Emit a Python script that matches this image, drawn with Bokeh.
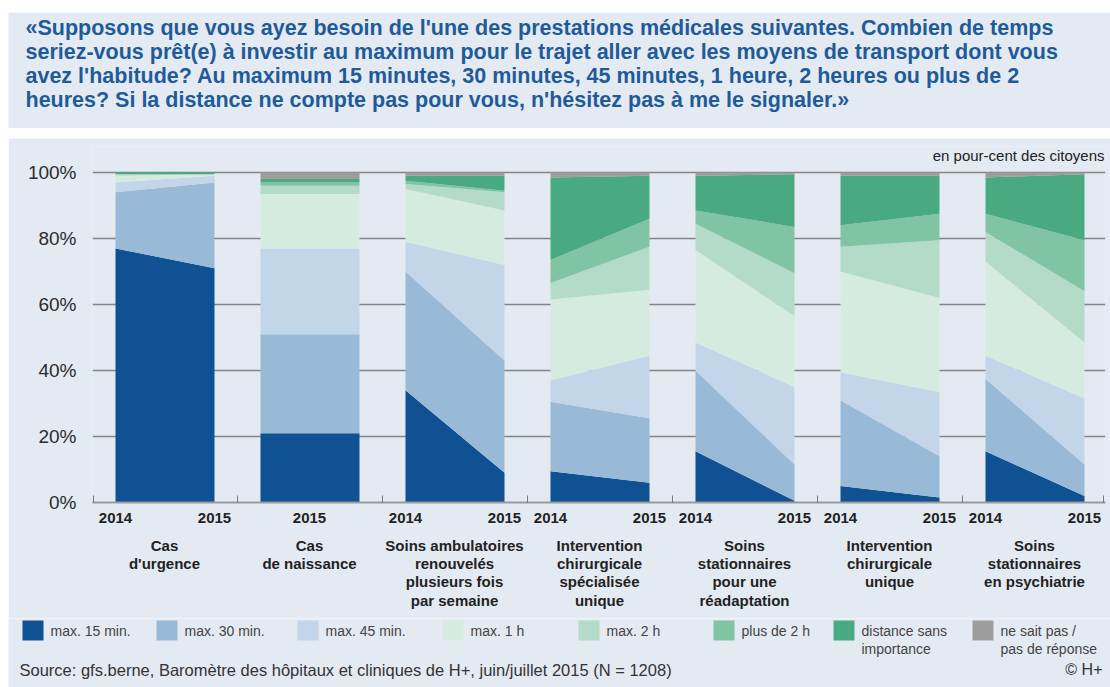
from bokeh.plotting import figure
from bokeh.layouts import column, row
from bokeh.models import Range1d, FixedTicker, LinearAxis, Label, ColumnDataSource, Spacer
from bokeh.core.properties import value
from bokeh.embed import file_html
from bokeh.resources import INLINE

# ---------------- data ----------------
categories = ["Cas\nd'urgence", "Cas\nde naissance",
              "Soins ambulatoires\nrenouvelés\nplusieurs fois\npar semaine",
              "Intervention\nchirurgicale\nspécialisée\nunique",
              "Soins\nstationnaires\npour une\nréadaptation",
              "Intervention\nchirurgicale\nunique",
              "Soins\nstationnaires\nen psychiatrie"]
years = ["2014", "2015"]
series = ["max. 15 min.", "max. 30 min.", "max. 45 min.", "max. 1 h", "max. 2 h",
          "plus de 2 h", "distance sans\nimportance", "ne sait pas /\npas de réponse"]
colors = ["#0f5193", "#99bad7", "#c3d5e8", "#d6ebe0", "#b4dbc8", "#81c4a3", "#49a980", "#9d9d9d"]

# values 2014 (None = not surveyed)
max15_2014 = [77, None, 34, 9.5, 15.5, 5, 15.5]
max30_2014 = [17, None, 36, 21, 24.5, 26, 22]
max45_2014 = [3, None, 9, 6.5, 8.5, 8.5, 7]
max1h_2014 = [2, None, 16, 24.5, 28, 30.5, 28.5]
max2h_2014 = [0.5, None, 1.5, 5, 8, 7.5, 9]
plus2h_2014 = [0, None, 1, 7, 4, 6.5, 5.5]
dist_2014 = [0.5, None, 1.5, 25, 10.5, 15, 11]
nsp_2014 = [0, None, 1, 1.5, 1, 1, 1.5]

# values 2015
max15_2015 = [71, 21, 9, 6, 0.5, 1.5, 2]
max30_2015 = [26, 30, 34, 19.5, 11, 12.5, 9.5]
max45_2015 = [2, 26, 29, 19, 23.5, 19.5, 20]
max1h_2015 = [0.5, 16.5, 16.5, 20, 21.5, 28.5, 17]
max2h_2015 = [0, 2.5, 5.5, 13, 13, 17.5, 15.5]
plus2h_2015 = [0, 1, 0.5, 8.5, 14, 8, 15.5]
dist_2015 = [0.5, 1, 4.5, 13, 16, 11.5, 20]
nsp_2015 = [0, 2, 1, 1, 0.5, 1, 0.5]

yticks = [0, 20, 40, 60, 80, 100]

title_lines = [
    "«Supposons que vous ayez besoin de l'une des prestations médicales suivantes. Combien de temps",
    "seriez-vous prêt(e) à investir au maximum pour le trajet aller avec les moyens de transport dont vous",
    "avez l'habitude? Au maximum 15 minutes, 30 minutes, 45 minutes, 1 heure, 2 heures ou plus de 2",
    "heures? Si la distance ne compte pas pour vous, n'hésitez pas à me le signaler.»",
]
unit_note = "en pour-cent des citoyens"
source_text = "Source: gfs.berne, Baromètre des hôpitaux et cliniques de H+, juin/juillet 2015 (N = 1208)"
copyright_text = "© H+"

vals_2014 = [max15_2014, max30_2014, max45_2014, max1h_2014, max2h_2014, plus2h_2014, dist_2014, nsp_2014]
vals_2015 = [max15_2015, max30_2015, max45_2015, max1h_2015, max2h_2015, plus2h_2015, dist_2015, nsp_2015]

# ---------------- style / layout constants ----------------
BOX = "#e4eaf2"
FONT = value("Liberation Sans")
W = 1102                  # figure width (8 px white strip on the left)
BL, BR = 84, 5            # chart borders
STEP, PW = 145, 99        # panel step and panel width (x units)
X0 = -23                  # x range start
PXU = 3.3                 # px per percent
FRAME_H = 356
Y_END = FRAME_H / PXU
HA = 116
HB = 480
HC = 687 - 12 - HA - 10 - HB


def blank(p):
    p.axis.visible = False
    p.grid.visible = False
    p.outline_line_color = None
    p.background_fill_color = BOX
    p.border_fill_color = BOX


# ---------------- title figure ----------------
pa = figure(width=W, height=HA, x_range=Range1d(0, W), y_range=Range1d(HA, 0),
            output_backend="svg", toolbar_location=None, min_border=0)
blank(pa)
pa.text(x=[17] * 4, y=[15 + 24 * j for j in range(4)], text=title_lines, text_font=FONT,
        text_font_style="bold", text_font_size="21.5px", text_color="#1f5b98",
        text_baseline="middle", text_align="left")

# ---------------- chart figure ----------------
pb = figure(width=W, height=HB, x_range=Range1d(X0, X0 + (W - BL - BR)), y_range=Range1d(0, Y_END),
            output_backend="svg", toolbar_location=None,
            min_border_left=BL, min_border_right=BR, min_border_top=8,
            min_border_bottom=HB - 8 - FRAME_H,
            x_axis_location=None, y_axis_location=None)
pb.background_fill_color = BOX
pb.border_fill_color = BOX
pb.outline_line_color = None
pb.xgrid.visible = False

keys = ["s%d" % k for k in range(len(series))]
for i in range(len(categories)):
    left = i * STEP
    right = left + PW
    data = {"x": [left, right]}
    for k in range(len(series)):
        a = vals_2014[k][i]
        b = vals_2015[k][i]
        if a is None:
            a = b
        data[keys[k]] = [a, b]
    pb.varea_stack(stackers=keys, x="x", color=colors, source=ColumnDataSource(data))

# y axis
yax = LinearAxis(ticker=FixedTicker(ticks=yticks),
                 major_label_overrides={t: "%d%%" % t for t in yticks})
yax.axis_line_color = None
yax.major_tick_line_color = None
yax.minor_tick_line_color = None
yax.major_label_standoff = 10
yax.major_label_text_font = "Liberation Sans"
yax.major_label_text_font_size = "19px"
yax.major_label_text_color = "#2b2b2b"
pb.add_layout(yax, "left")
pb.ygrid.ticker = FixedTicker(ticks=yticks)
pb.ygrid.grid_line_color = "#858585"
pb.ygrid.grid_line_width = 1.6

# year axis
yt, yl = [], {}
for i in range(len(categories)):
    left = i * STEP
    right = left + PW
    if vals_2014[0][i] is None:
        c = (left + right) // 2
        yt.append(c)
        yl[c] = years[1]
    else:
        yt += [left, right]
        yl[left] = years[0]
        yl[right] = years[1]
minor = [X0 + 1] + [i * STEP + PW + (STEP - PW) // 2 for i in range(len(categories) - 1)] + [X0 + W - BL - BR - 2]
xax = LinearAxis(ticker=FixedTicker(ticks=yt, minor_ticks=minor), major_label_overrides=yl)
xax.axis_line_color = "#9a9a9a"
xax.axis_line_width = 2
xax.major_tick_line_color = None
xax.minor_tick_line_color = "#777777"
xax.minor_tick_in = 7
xax.minor_tick_out = 0
xax.major_label_standoff = 4
xax.major_label_text_font = "Liberation Sans"
xax.major_label_text_font_style = "bold"
xax.major_label_text_font_size = "15px"
xax.major_label_text_color = "#222222"
pb.add_layout(xax, "below")

# category axis
ct = [i * STEP + PW // 2 for i in range(len(categories))]
cax = LinearAxis(ticker=FixedTicker(ticks=ct),
                 major_label_overrides={c: categories[i] for i, c in enumerate(ct)})
cax.axis_line_color = None
cax.major_tick_line_color = None
cax.minor_tick_line_color = None
cax.major_label_standoff = 5
cax.major_label_text_font = "Liberation Sans"
cax.major_label_text_font_style = "bold"
cax.major_label_text_font_size = "15px"
cax.major_label_text_color = "#222222"
cax.major_label_text_line_height = 1.08
pb.add_layout(cax, "below")

# unit note (inside the frame, above the 100 % line)
pb.add_layout(Label(x=X0 + (W - BL - BR) - 1, y=(502 - 155) / PXU, text=unit_note,
                    text_align="right", text_baseline="middle",
                    text_font="Liberation Sans", text_font_size="15px", text_color="#222222"))

# ---------------- legend / source figure ----------------
pc = figure(width=W, height=HC, x_range=Range1d(0, W), y_range=Range1d(HC, 0),
            output_backend="svg", toolbar_location=None, min_border=0)
blank(pc)
sq_x = [14, 148, 289, 434, 570, 705, 825, 964]
pc.quad(left=sq_x, right=[s + 21 for s in sq_x], top=[2] * 8, bottom=[22] * 8,
        fill_color=colors, line_color=None)
tx, ty, tt = [], [], []
for k, s in enumerate(series):
    for j, line in enumerate(s.split("\n")):
        tx.append(sq_x[k] + 28)
        ty.append(12 + 18 * j)
        tt.append(line)
pc.text(x=tx, y=ty, text=tt, text_font=FONT, text_font_size="14px", text_color="#444444",
        text_baseline="middle", text_align="left")
pc.text(x=[11], y=[51], text=[source_text], text_font=FONT, text_font_size="16.5px",
        text_color="#333333", text_baseline="middle", text_align="left")
pc.text(x=[1094], y=[51], text=[copyright_text], text_font=FONT, text_font_size="16px",
        text_color="#333333", text_baseline="middle", text_align="right")

layout = column(Spacer(width=1110, height=12),
                row(Spacer(width=8, height=HA), pa),
                Spacer(width=1110, height=10),
                row(Spacer(width=8, height=HB), pb),
                row(Spacer(width=8, height=HC), pc),
                spacing=0)
open("out.html", "w").write(file_html(layout, INLINE))
